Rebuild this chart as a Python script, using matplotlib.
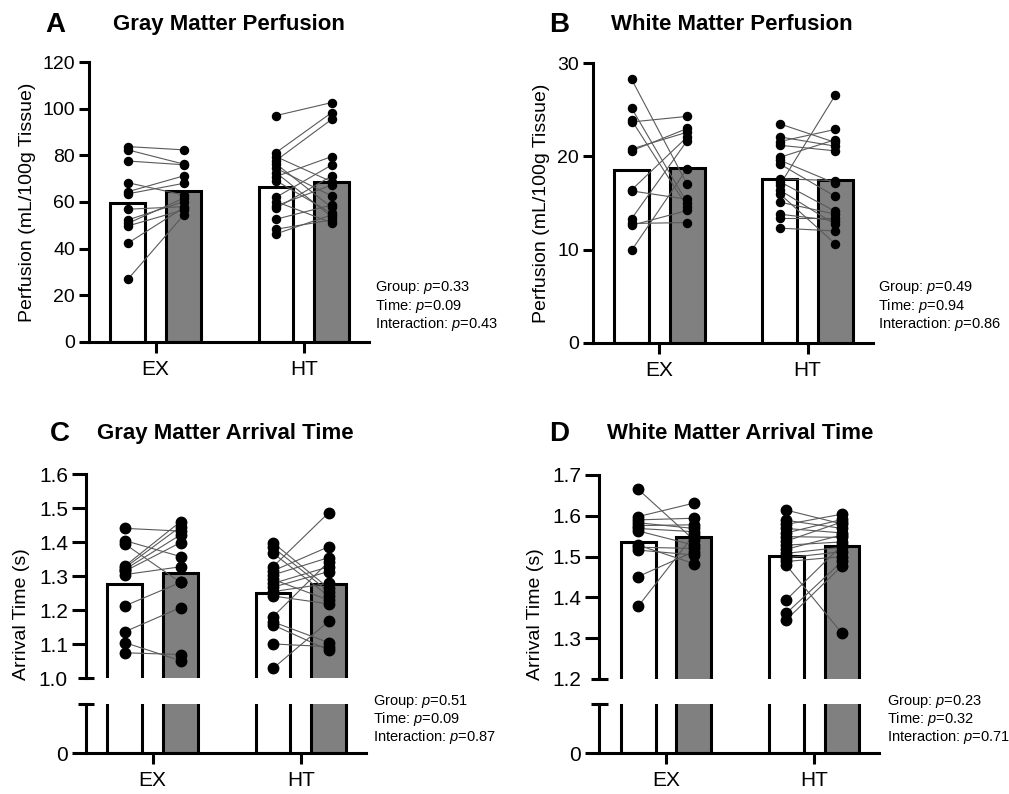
import matplotlib
matplotlib.use('Agg')
import matplotlib.pyplot as plt

plt.rcParams['font.family'] = ['Liberation Sans', 'DejaVu Sans']
plt.rcParams['mathtext.fontset'] = 'custom'
plt.rcParams['mathtext.rm'] = 'Liberation Sans'
plt.rcParams['mathtext.it'] = 'Liberation Sans:italic'

groups = ['EX', 'HT']

# ---- Panel A: Gray matter perfusion (mL/100g) ----
gm_perf_ex_pre = [83.8, 82.4, 77.6, 68.3, 64.4, 63.5, 56.9, 52.3, 50.8, 49.7, 42.3, 26.8]
gm_perf_ex_post = [82.4, 76.3, 76.0, 63.0, 71.2, 68.0, 58.0, 60.1, 61.6, 56.6, 57.5, 54.3]
gm_perf_ht_pre = [97.1, 81.2, 79.5, 77.8, 76.4, 74.5, 72.6, 70.9, 69.2, 62.0, 60.2, 58.3, 57.3, 52.6, 48.3, 46.3]
gm_perf_ht_post = [102.7, 98.4, 68.7, 95.5, 57.7, 62.6, 53.7, 79.5, 55.1, 75.9, 51.1, 67.3, 71.2, 58.7, 52.3, 54.5]
gm_perf_means = [59.5, 64.9, 66.6, 68.6]

# ---- Panel B: White matter perfusion ----
wm_perf_ex_pre = [28.3, 25.2, 23.9, 23.7, 20.6, 20.8, 16.4, 16.3, 13.3, 12.8, 12.6, 9.9]
wm_perf_ex_post = [17.0, 15.0, 14.6, 24.3, 23.0, 22.6, 22.1, 15.4, 21.7, 12.9, 14.2, 18.7]
wm_perf_ht_pre = [23.5, 22.1, 21.6, 21.2, 19.9, 19.6, 19.2, 17.6, 17.3, 16.9, 16.4, 16.0, 15.1, 13.8, 13.4, 12.3]
wm_perf_ht_post = [21.5, 21.1, 22.9, 20.6, 21.8, 17.1, 15.7, 17.4, 14.1, 26.6, 12.7, 10.6, 13.8, 13.1, 13.4, 12.0]
wm_perf_means = [18.5, 18.8, 17.6, 17.5]

# ---- Panel C: Gray matter arrival time (s) ----
gm_at_ex_pre = [1.441, 1.405, 1.395, 1.330, 1.325, 1.320, 1.315, 1.305, 1.213, 1.137, 1.105, 1.075]
gm_at_ex_post = [1.433, 1.358, 1.282, 1.461, 1.446, 1.422, 1.399, 1.328, 1.282, 1.208, 1.052, 1.070]
gm_at_ht_pre = [1.399, 1.385, 1.368, 1.328, 1.316, 1.304, 1.291, 1.279, 1.268, 1.255, 1.242, 1.181, 1.166, 1.157, 1.101, 1.029]
gm_at_ht_post = [1.265, 1.255, 1.242, 1.487, 1.387, 1.355, 1.230, 1.328, 1.314, 1.279, 1.219, 1.343, 1.105, 1.083, 1.093, 1.168]
gm_at_means = [1.276, 1.309, 1.250, 1.277]

# ---- Panel D: White matter arrival time (s) ----
wm_at_ex_pre = [1.665, 1.598, 1.590, 1.583, 1.576, 1.569, 1.563, 1.528, 1.523, 1.516, 1.451, 1.378]
wm_at_ex_post = [1.541, 1.631, 1.594, 1.569, 1.578, 1.561, 1.528, 1.483, 1.520, 1.504, 1.512, 1.553]
wm_at_ht_pre = [1.614, 1.589, 1.579, 1.569, 1.558, 1.549, 1.538, 1.528, 1.518, 1.508, 1.497, 1.488, 1.479, 1.394, 1.361, 1.345]
wm_at_ht_post = [1.580, 1.569, 1.604, 1.558, 1.591, 1.547, 1.585, 1.536, 1.553, 1.523, 1.512, 1.500, 1.312, 1.528, 1.488, 1.477]
wm_at_means = [1.537, 1.547, 1.502, 1.526]

stats_A = ["Group: $p$=0.33", "Time: $p$=0.09", "Interaction: $p$=0.43"]
stats_B = ["Group: $p$=0.49", "Time: $p$=0.94", "Interaction: $p$=0.86"]
stats_C = ["Group: $p$=0.51", "Time: $p$=0.09", "Interaction: $p$=0.87"]
stats_D = ["Group: $p$=0.23", "Time: $p$=0.32", "Interaction: $p$=0.71"]

W, H = 1009, 794
fig = plt.figure(figsize=(W / 100, H / 100), dpi=100)

LW = 2.2
OFF = 0.188
BW = 0.235
XL = (-0.45, 1.44)
CAP = 0.057


def add_ax(left, top, right, bottom):
    return fig.add_axes([left / W, 1 - bottom / H, (right - left) / W, (bottom - top) / H])


def style(ax, ticklen, ticksize):
    for s in ['top', 'right']:
        ax.spines[s].set_visible(False)
    for s in ['left', 'bottom']:
        ax.spines[s].set_linewidth(LW)
    ax.tick_params(axis='both', width=LW, length=ticklen, labelsize=ticksize, pad=3, color='black')
    ax.set_xlim(*XL)


def draw(ax, means, ex_pre, ex_post, ht_pre, ht_post, ms, show_pts=True):
    data = [(ex_pre, ex_post), (ht_pre, ht_post)]
    for g in range(2):
        ax.bar(g - OFF, means[2 * g], width=BW, facecolor='white', edgecolor='black', linewidth=LW, zorder=2)
        ax.bar(g + OFF, means[2 * g + 1], width=BW, facecolor='#808080', edgecolor='black', linewidth=LW, zorder=2)
    if not show_pts:
        return
    for g, (pre, post) in enumerate(data):
        for a, b in zip(pre, post):
            ax.plot([g - OFF, g + OFF], [a, b], color='#5a5a5a', lw=0.8, zorder=3)
        ax.plot([g - OFF] * len(pre), pre, 'o', color='black', ms=ms, zorder=4, clip_on=False)
        ax.plot([g + OFF] * len(post), post, 'o', color='black', ms=ms, zorder=4, clip_on=False)


def ptext(x, y0, lines):
    for i, t in enumerate(lines):
        fig.text(x / W, 1 - (y0 + 18 * i) / H, t, fontsize=10.5, va='center', ha='left')


def heading(xl, xt, yb, letter, title):
    fig.text(xl / W, 1 - yb / H, letter, fontsize=20, fontweight='bold', va='baseline', ha='left')
    fig.text(xt / W, 1 - (yb - 2) / H, title, fontsize=16, fontweight='bold', va='baseline', ha='left')


# ---------- Panel A ----------
axA = add_ax(89, 62.3, 369, 341.7)
style(axA, 7, 14)
draw(axA, gm_perf_means, gm_perf_ex_pre, gm_perf_ex_post, gm_perf_ht_pre, gm_perf_ht_post, 5.8)
axA.set_ylim(0, 120)
axA.set_yticks(range(0, 121, 20))
axA.set_xticks([0, 1])
axA.set_xticklabels(groups, fontsize=15)
axA.tick_params(axis='x', length=8, pad=5)
axA.set_ylabel('Perfusion (mL/100g Tissue)', fontsize=14, labelpad=5)
ptext(375, 288, stats_A)
heading(45, 113, 32, 'A', 'Gray Matter Perfusion')

# ---------- Panel B ----------
axB = add_ax(592.7, 63.3, 872.7, 342.7)
style(axB, 7, 14)
draw(axB, wm_perf_means, wm_perf_ex_pre, wm_perf_ex_post, wm_perf_ht_pre, wm_perf_ht_post, 5.8)
axB.set_ylim(0, 30)
axB.set_yticks(range(0, 31, 10))
axB.set_xticks([0, 1])
axB.set_xticklabels(groups, fontsize=15)
axB.tick_params(axis='x', length=8, pad=5)
axB.set_ylabel('Perfusion (mL/100g Tissue)', fontsize=14, labelpad=5)
ptext(878, 288, stats_B)
heading(549, 611, 32, 'B', 'White Matter Perfusion')


# ---------- Broken-axis panels ----------
def broken(left, top_up, bot_up, ylo, yhi, step, means, ex_pre, ex_post, ht_pre, ht_post, ylabel, stats, sx):
    axU = add_ax(left, top_up, left + 280, bot_up)
    axL = add_ax(left, 704, left + 280, 753.3)
    style(axU, 10, 15)
    style(axL, 10, 15)
    draw(axU, means, ex_pre, ex_post, ht_pre, ht_post, 7.5)
    draw(axL, means, ex_pre, ex_post, ht_pre, ht_post, 7.5, show_pts=False)
    axU.set_ylim(ylo, yhi)
    ticks = [round(ylo + step * i, 2) for i in range(int(round((yhi - ylo) / step)) + 1)]
    axU.set_yticks(ticks)
    axU.set_yticklabels([f'{t:.1f}' for t in ticks])
    axU.spines['bottom'].set_visible(False)
    axU.set_xticks([])
    axU.yaxis.get_major_ticks()[0].tick1line.set_visible(False)
    axU.plot([XL[0] - CAP, XL[0] + CAP], [ylo, ylo], color='black', lw=LW, clip_on=False, solid_capstyle='butt')
    axL.set_ylim(0, 1)
    axL.set_yticks([0])
    axL.set_xticks([0, 1])
    axL.set_xticklabels(groups, fontsize=15)
    axL.tick_params(axis='x', length=8, pad=5)
    axL.plot([XL[0] - CAP, XL[0] + CAP], [1, 1], color='black', lw=LW, clip_on=False, solid_capstyle='butt')
    fig.text((left - 64) / W, 1 - 614 / H, ylabel, fontsize=14, rotation=90, va='center', ha='center')
    ptext(sx, 701, stats)
    return axU, axL


broken(86, 474.3, 678.3, 1.0, 1.6, 0.1, gm_at_means, gm_at_ex_pre, gm_at_ex_post, gm_at_ht_pre, gm_at_ht_post,
       'Arrival Time (s)', stats_C, 373)
heading(50, 97, 441, 'C', 'Gray Matter Arrival Time')

broken(599.3, 475, 679, 1.2, 1.7, 0.1, wm_at_means, wm_at_ex_pre, wm_at_ex_post, wm_at_ht_pre, wm_at_ht_post,
       'Arrival Time (s)', stats_D, 887)
heading(549, 607, 441, 'D', 'White Matter Arrival Time')

fig.savefig('out.png', dpi=100)
